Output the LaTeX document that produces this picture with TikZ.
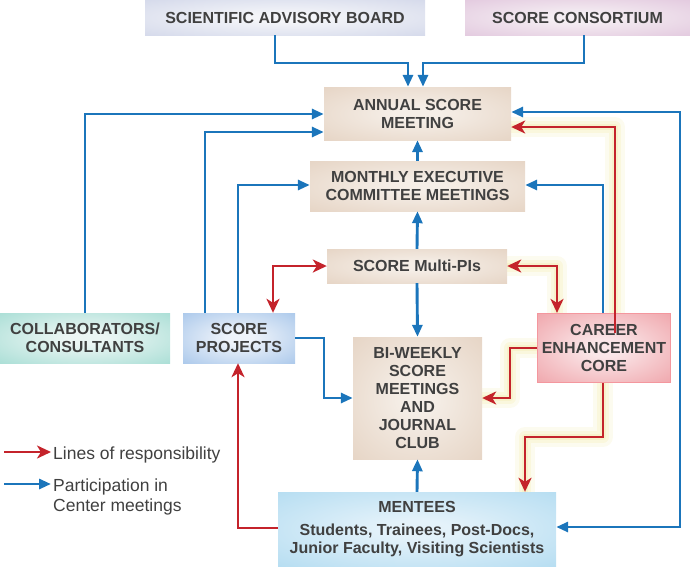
\documentclass[tikz,border=0pt]{standalone}
\usepackage{fontspec}
\setmainfont{Liberation Sans}
\usetikzlibrary{arrows.meta,backgrounds,calc}
\definecolor{bl}{HTML}{1B75BB}
\definecolor{rd}{HTML}{C4232B}
\definecolor{tx}{HTML}{404040}
\definecolor{glowc}{HTML}{F1E9A6}
\definecolor{begin}{HTML}{F5EEE7}\definecolor{begout}{HTML}{E5D3C3}
\definecolor{sabin}{HTML}{F4F5F9}\definecolor{sabout}{HTML}{D3D8EA}
\definecolor{conin}{HTML}{F5EEF3}\definecolor{conout}{HTML}{E2C8DE}
\definecolor{colin}{HTML}{ECF6F4}\definecolor{colout}{HTML}{A6DDD4}
\definecolor{proin}{HTML}{EEF3FA}\definecolor{proout}{HTML}{A7C6EA}
\definecolor{carin}{HTML}{FAE6E8}\definecolor{carout}{HTML}{EFA2A8}\definecolor{carbd}{HTML}{F4979E}
\definecolor{menin}{HTML}{E4F2FA}\definecolor{menout}{HTML}{B3DCF1}
\colorlet{gin}{white}
\colorlet{gout}{gray}
\pgfdeclareradialshading[gin,gout]{boxshade}{\pgfpointorigin}{color(0bp)=(gin); color(6bp)=(gin); color(38bp)=(gout); color(50bp)=(gout)}
\tikzset{
  box/.style 2 args={/utils/exec={\colorlet{gin}{#1}\colorlet{gout}{#2}}, shading=boxshade, inner sep=0pt, align=center, text=tx, font=\bfseries\fontsize{16}{18}\selectfont},
  bconn/.style={draw=bl, line width=2.9pt, >={Triangle[length=12pt,width=10pt]}},
  rconn/.style={draw=rd, line width=2.9pt, >={Stealth[length=14pt,width=13pt,inset=4pt]}},
  glow/.style={draw=glowc, line width=6pt, draw opacity=.3, line join=round, line cap=round,
    preaction={draw=glowc, line width=12pt, draw opacity=.25, line join=round, line cap=round},
    preaction={draw=glowc, line width=20pt, draw opacity=.18, line join=round, line cap=round}},
  legend/.style={inner sep=0pt, text=tx, font=\fontsize{17.5}{20}\selectfont, align=left}
}
\begin{document}
\begin{tikzpicture}[x=1pt,y=-1pt]
\useasboundingbox (0,0) rectangle (690,566);
% nodes
\node[box={sabin}{sabout}, minimum width=280pt, minimum height=35pt] (sab) at (285,17.5) {SCIENTIFIC ADVISORY BOARD};
\node[box={conin}{conout}, minimum width=225pt, minimum height=35pt] (cons) at (577.5,17.5) {SCORE CONSORTIUM};
\node[box={begin}{begout}, minimum width=187pt, minimum height=53pt] (annual) at (417.5,113.5) {ANNUAL SCORE\\MEETING};
\node[box={begin}{begout}, minimum width=215pt, minimum height=50pt] (monthly) at (417.5,186) {MONTHLY EXECUTIVE\\COMMITTEE MEETINGS};
\node[box={begin}{begout}, minimum width=180pt, minimum height=34pt] (multipi) at (417,266) {SCORE Multi-PIs};
\node[box={begin}{begout}, minimum width=129pt, minimum height=122pt] (biweekly) at (417.5,398) {BI-WEEKLY\\SCORE\\MEETINGS\\AND\\JOURNAL\\CLUB};
\node[box={carin}{carout}, draw=carbd, line width=1.2pt, minimum width=133pt, minimum height=69pt] (career) at (604,348) {CAREER\\ENHANCEMENT\\CORE};
\node[box={colin}{colout}, minimum width=170pt, minimum height=50pt] (collab) at (85,338) {COLLABORATORS/\\CONSULTANTS};
\node[box={proin}{proout}, minimum width=112pt, minimum height=50pt] (projects) at (239,338) {SCORE\\PROJECTS};
\node[box={menin}{menout}, minimum width=278pt, minimum height=74pt] (mentees) at (417,529) {MENTEES\\[5pt]Students, Trainees, Post-Docs,\\Junior Faculty, Visiting Scientists};
\coordinate (cin) at ($(career.north -| 615,0)+(0,20)$);
% glow
\begin{scope}[on background layer]
\draw[glow] (career.north -| 615,0) |- (annual.east |- 0,127);
\draw[glow] (multipi.east) -| (career.north -| 557,0);
\draw[glow] (career.west) -- (510,348) |- (biweekly.east |- 0,398);
\draw[glow] (career.south -| 603,0) -- (603,437) -| (mentees.north -| 525,0);
\end{scope}
% blue connectors
\draw[bconn,->] (sab.south -| 275,0) -- (275,63) -| (annual.north -| 408,0);
\draw[bconn,->] (cons.south -| 584,0) -- (584,63) -| (annual.north -| 423,0);
\draw[bconn,->] (collab.north) |- (annual.west |- 0,114);
\draw[bconn,->] (projects.north -| 205,0) |- (annual.west |- 0,132);
\draw[bconn,->] (projects.north -| 238,0) |- (monthly.west |- 0,185);
\draw[bconn,->] (career.north -| 603,0) |- (monthly.east |- 0,185);
\draw[bconn,->] (monthly.north) -- (annual.south);
\draw[bconn,->] (multipi.north) -- (monthly.south);
\draw[bconn,->] (multipi.south) -- (biweekly.north);
\draw[bconn,->] (mentees.north) -- (biweekly.south);
\draw[bconn,->] (projects.east) -- (324,338) |- (biweekly.west |- 0,398);
\draw[bconn,<->] (annual.east |- 0,112) -| (680,527) -- (mentees.east |- 0,527);
% red connectors
\draw[rconn,->] (cin) |- (annual.east |- 0,127);
\draw[rconn,<->] (projects.north -| 273,0) |- (multipi.west);
\draw[rconn,<->] (multipi.east) -| (career.north -| 557,0);
\draw[rconn,->] (career.west) -- (510,348) |- (biweekly.east |- 0,398);
\draw[rconn,->] (career.south -| 603,0) -- (603,437) -| (mentees.north -| 525,0);
\draw[rconn,->] (mentees.west |- 0,528) -| (projects.south -| 238,0);
% legend
\coordinate (lr1) at (4,452);
\coordinate (lr2) at (51,452);
\coordinate (lb1) at (4,484);
\coordinate (lb2) at (51,484);
\draw[rconn,->] (lr1) -- (lr2);
\draw[bconn,->] (lb1) -- (lb2);
\node[legend, anchor=base west] (lrt) at (53,459) {Lines of responsibility};
\node[legend, anchor=north west] (lbt) at (53,479) {Participation in\\Center meetings};
\end{tikzpicture}
\end{document}
